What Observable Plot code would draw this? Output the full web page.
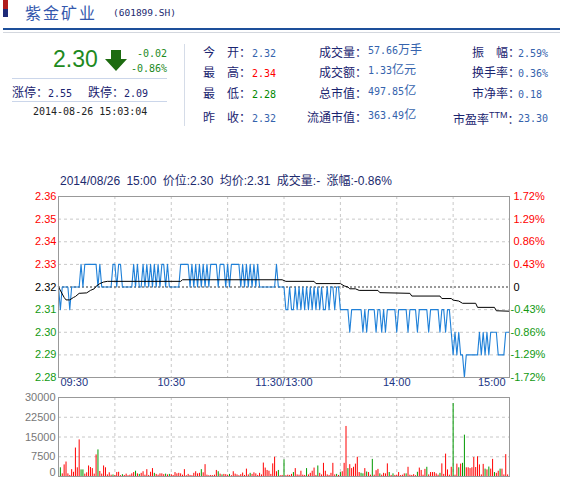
<!DOCTYPE html>
<html><head><meta charset="utf-8">
<script src="https://cdn.jsdelivr.net/npm/d3@7"></script>
<script src="https://cdn.jsdelivr.net/npm/@observablehq/plot@0.6"></script>
<style>
html,body{margin:0;padding:0;background:#fff;}
body{width:563px;height:477px;overflow:hidden;position:relative;font-family:"Liberation Sans","Noto Sans CJK SC",sans-serif;}
.a{position:absolute;white-space:nowrap;}
.cjk{font-family:"Noto Sans CJK SC",sans-serif;font-size:12px;line-height:12px;color:#1a2470;}
.mono{font-family:"DejaVu Sans Mono",monospace;font-size:10px;line-height:12px;}
#price,#vol{position:absolute;left:0;}
</style></head><body>
<div id="hdr"></div>
<div id="price"></div>
<div id="vol"></div>
<script>
// ---------- header data ----------
const stockName = "紫金矿业";
const stockCode = "(601899.SH)";
const lastPrice = "2.30";
const changeAbs = "-0.02";
const changePct = "-0.86%";
const limitLabels = ["涨停：", "跌停："];
const limitValues = ["2.55", "2.09"];
const quoteTime = "2014-08-26 15:03:04";
const statLabels1 = ["今　开：", "最　高：", "最　低：", "昨　收："];
const statValues1 = ["2.32", "2.34", "2.28", "2.32"];
const statLabels2 = ["成交量：", "成交额：", "总市值：", "流通市值："];
const statValues2 = ["57.66万手", "1.33亿元", "497.85亿", "363.49亿"];
const statLabels3 = ["振　幅：", "换手率：", "市净率：", "市盈率"];
const statValues3 = ["2.59%", "0.36%", "0.18", "23.30"];
const chartSubtitle = "2014/08/26 15:00 价位:2.30 均价:2.31 成交量:- 涨幅:-0.86%";

// ---------- chart data ----------
const prevClose = 2.32;
const timeTickIndex = [0, 60, 120, 180, 240];
const timeTickLabels = ["09:30", "10:30", "11:30/13:00", "14:00", "15:00"];
const gridIndex = [30, 60, 90, 120, 150, 180, 210];
const priceTicks = [2.28, 2.29, 2.30, 2.31, 2.32, 2.33, 2.34, 2.35, 2.36];
const pctTickLabels = ["-1.72%", "-1.29%", "-0.86%", "-0.43%", "0", "0.43%", "0.86%", "1.29%", "1.72%"];
const volTicks = [0, 7500, 15000, 22500, 30000];

// minute-by-minute price (241 points: 09:30-11:30, 13:01-15:00)
const price = [
2.32,2.31,2.32,2.32,2.32,2.32,2.31,2.32,2.32,2.32,
2.32,2.32,2.33,2.32,2.33,2.33,2.33,2.33,2.33,2.33,
2.33,2.32,2.33,2.32,2.32,2.32,2.32,2.32,2.32,2.33,
2.33,2.32,2.33,2.33,2.32,2.32,2.32,2.32,2.32,2.32,
2.33,2.32,2.33,2.32,2.32,2.33,2.32,2.33,2.32,2.33,
2.32,2.33,2.32,2.33,2.32,2.33,2.33,2.32,2.33,2.32,
2.32,2.32,2.32,2.32,2.32,2.33,2.33,2.33,2.33,2.33,
2.32,2.33,2.32,2.33,2.32,2.33,2.32,2.33,2.32,2.33,
2.32,2.33,2.33,2.33,2.33,2.32,2.33,2.33,2.33,2.32,
2.33,2.32,2.33,2.33,2.33,2.33,2.33,2.32,2.33,2.32,
2.33,2.32,2.33,2.32,2.33,2.32,2.33,2.32,2.32,2.32,
2.32,2.32,2.32,2.32,2.32,2.32,2.33,2.32,2.32,2.32,
2.32,2.31,2.31,2.32,2.31,2.31,2.32,2.31,2.32,2.31,
2.32,2.31,2.32,2.31,2.32,2.31,2.32,2.31,2.32,2.31,
2.32,2.31,2.31,2.32,2.31,2.32,2.32,2.31,2.32,2.32,
2.31,2.31,2.31,2.31,2.31,2.30,2.31,2.31,2.31,2.31,
2.31,2.31,2.30,2.31,2.30,2.31,2.31,2.31,2.31,2.30,
2.31,2.31,2.30,2.31,2.30,2.31,2.31,2.31,2.31,2.31,
2.30,2.31,2.31,2.31,2.31,2.31,2.30,2.31,2.31,2.31,
2.31,2.30,2.31,2.31,2.31,2.31,2.31,2.30,2.31,2.31,
2.31,2.31,2.31,2.30,2.31,2.31,2.30,2.31,2.31,2.30,
2.29,2.30,2.29,2.30,2.29,2.29,2.28,2.29,2.29,2.29,
2.29,2.29,2.29,2.29,2.30,2.29,2.30,2.29,2.30,2.29,
2.30,2.30,2.30,2.30,2.29,2.29,2.29,2.29,2.30,2.30,
2.30];

// average-price line, read at its visible break points
const avgMinute = [0,3,4,6,8,9,11,15,17,19,20,22,24,26,65,66,119,121,136,137,150,152,154,155,158,160,170,171,187,188,203,204,209,210,213,215,222,223,232,233,240];
const avgValue  = [2.3200,2.3154,2.3143,2.3143,2.3154,2.3158,2.3172,2.3174,2.3185,2.3192,2.3203,2.3215,2.3222,2.3225,2.3225,2.3232,2.3232,2.3225,2.3225,2.3215,2.3215,2.3205,2.3200,2.3192,2.3192,2.3185,2.3185,2.3175,2.3172,2.3160,2.3160,2.3149,2.3149,2.3142,2.3138,2.3128,2.3128,2.3110,2.3110,2.3095,2.3093];

// volume per minute
const volume = [
6400,3300,1000,4400,5500,1000,400,2600,1600,10800,
3300,13900,2500,2500,900,1400,4000,3400,3000,900,
8200,10100,1900,900,4000,3300,600,1400,500,600,
400,1500,1600,300,700,400,900,300,500,1000,
1500,2000,1000,800,1200,1800,500,2600,400,1600,
3000,1200,800,500,1000,1000,700,900,600,800,
700,400,1500,1000,1200,1000,500,2600,300,800,
400,300,1200,1800,1000,1200,2600,1400,4500,500,
300,400,300,500,2300,1800,900,600,800,700,
500,800,300,1800,900,600,300,700,1300,400,
2800,600,1200,800,1400,1000,400,1200,600,5100,
3200,2300,2000,800,4800,7300,1800,2300,300,400,
6300,300,500,400,800,1500,3000,600,500,2000,
500,400,3000,600,1200,2000,3200,400,4000,1200,
600,5000,2000,600,400,1200,5000,600,800,400,
1500,1800,5000,19000,3000,4500,3000,3500,4700,7300,
1500,1200,1000,3000,1700,1500,500,6500,500,2200,
2700,1000,500,1200,1000,4800,1500,400,1000,400,
500,1500,300,500,1000,1000,3500,500,400,700,
300,1600,3200,2300,500,2700,3500,600,1500,1500,
1500,1000,500,1200,4800,800,8500,2500,500,3500,
27700,500,4700,3300,4700,5000,15700,3300,3300,3000,
3300,7200,3400,7500,4400,600,4600,2800,2500,3600,
2800,6500,1500,1200,2000,2800,2800,600,8300,600,
500];
// 1 = up (red), 0 = down (green)
const volumeUp = [
1,0,1,1,1,1,1,1,1,1,
1,1,0,0,1,1,1,1,1,1,
1,0,1,1,1,1,1,1,1,0,
1,1,1,1,0,1,1,1,1,1,
1,0,1,0,1,1,1,1,1,1,
1,0,1,1,1,1,1,0,1,0,
1,1,1,1,1,1,1,1,1,1,
1,1,1,1,1,1,0,1,1,1,
1,1,1,1,1,0,1,0,1,1,
1,0,1,1,1,1,1,1,1,1,
1,1,0,1,1,1,1,1,1,1,
1,1,1,1,1,1,1,0,1,1,
0,1,1,1,1,0,1,1,1,1,
1,1,0,1,1,1,1,1,0,1,
1,1,1,1,1,1,1,1,0,1,
0,1,1,1,0,1,1,1,1,1,
1,0,0,1,0,1,1,0,1,1,
1,0,1,1,1,1,0,1,0,1,
1,1,1,1,1,0,1,1,1,1,
1,0,1,1,1,1,0,1,1,1,
1,1,1,0,1,1,1,1,1,1,
0,1,1,0,1,0,0,1,1,1,
1,1,1,1,1,1,1,0,1,0,
1,1,0,1,1,0,1,1,1,1,
1];

// ---------- header ----------
const RED = "#ff0000", GREEN = "#119911", BLUEV = "#3563ad";
const hdr = document.getElementById("hdr");
function put(html, css) {
  const d = document.createElement("div");
  d.className = "a";
  d.innerHTML = html;
  Object.assign(d.style, css);
  hdr.appendChild(d);
  return d;
}
put("", {left:"3px", top:"0px", width:"5px", height:"9px", background:"#b01c1c"});
put("", {left:"3px", top:"9px", width:"5px", height:"8px", background:"#1e2a78"});
put(stockName, {left:"25px", top:"0px", fontFamily:"Noto Sans CJK SC", fontSize:"16px", lineHeight:"normal", letterSpacing:"2px", color:"#3458ad"});
put(stockCode, {left:"113px", top:"7px", fontFamily:"DejaVu Sans Mono", fontSize:"9.5px", lineHeight:"12px", color:"#1c2a70"});
put("", {left:"3px", top:"28px", width:"557px", height:"2px", background:"#1d4f9a"});
put("", {left:"3px", top:"32px", width:"557px", height:"1px", background:"#d3d7de"});

put(lastPrice, {left:"53px", top:"48px", fontFamily:"Liberation Sans", fontSize:"23px", lineHeight:"23px", color:"#1e8a1e"});
put('<svg width="22" height="21"><polygon points="6,0 16,0 16,9 22,9 11,21 0,9 6,9" fill="#1d6b10"/></svg>', {left:"105px", top:"50px", lineHeight:"0"});
put(changeAbs, {left:"131px", top:"48px", width:"36px", textAlign:"right", fontFamily:"DejaVu Sans Mono", fontSize:"10px", lineHeight:"12px", color:"#1e8a1e"});
put(changePct, {left:"122px", top:"63px", width:"45px", textAlign:"right", fontFamily:"DejaVu Sans Mono", fontSize:"10px", lineHeight:"12px", color:"#1e8a1e"});
put("", {left:"12px", top:"78px", width:"155px", height:"1px", background:"#cbd6ea"});
put("", {left:"12px", top:"101px", width:"155px", height:"1px", background:"#cbd6ea"});
put('<span class="cjk">' + limitLabels[0] + '</span><span class="mono" style="color:#1a2470">' + limitValues[0] + '</span>', {left:"12px", top:"83px"});
put('<span class="cjk">' + limitLabels[1] + '</span><span class="mono" style="color:#1a2470">' + limitValues[1] + '</span>', {left:"88px", top:"83px"});
put(quoteTime, {left:"33px", top:"106px", fontFamily:"DejaVu Sans Mono", fontSize:"10px", lineHeight:"12px", color:"#222"});
put("", {left:"184px", top:"44px", width:"1px", height:"82px", background:"#d5dce8"});

const rowC = [49, 69, 90, 114];
statLabels1.forEach((l, k) => {
  put('<span class="cjk">' + l + '</span>', {left:"203px", top:(rowC[k]-6)+"px"});
  const col = k === 1 ? RED : k === 2 ? "#008800" : BLUEV;
  put('<span class="mono" style="color:' + col + '">' + statValues1[k] + '</span>', {left:"252px", top:(rowC[k]-6)+"px"});
});
statLabels2.forEach((l, k) => {
  put('<span class="cjk">' + l + '</span>', {left:"267px", width:"100px", textAlign:"right", top:(rowC[k]-6)+"px"});
  put(statValues2[k].replace(/([^0-9.%]+)/, '<span style="font-family:Noto Sans CJK SC;font-size:12px">$1</span>'),
      {left:"368px", top:(rowC[k]-6)+"px", fontFamily:"DejaVu Sans Mono", fontSize:"10px", lineHeight:"12px", color:BLUEV});
});
statLabels3.forEach((l, k) => {
  if (k < 3) {
    put('<span class="cjk">' + l + '</span>', {left:"472px", top:(rowC[k]-6)+"px"});
  } else {
    put('<span class="cjk">' + l + '</span><span style="font-family:Liberation Sans;font-size:9px;color:#1a2470;position:relative;top:-6px">TTM</span><span class="cjk">：</span>', {left:"453px", top:(rowC[k]-4)+"px"});
  }
  put('<span class="mono" style="color:' + BLUEV + '">' + statValues3[k] + '</span>', {left:"518px", top:(rowC[k]-6)+"px"});
});
put(chartSubtitle, {left:"60px", top:"174px", fontFamily:"Liberation Sans, Noto Sans CJK SC", fontSize:"12px", lineHeight:"14px", wordSpacing:"3px", color:"#1c2a6e"});

// ---------- charts ----------
const priceRows = price.map((p, i) => ({i, p}));
const avgRows = avgMinute.map((m, k) => ({i: m, a: avgValue[k]}));
const volRows = volume.map((v, i) => ({i, v, up: volumeUp[i]}));
const tickColor = v => Math.abs(v - prevClose) < 1e-9 ? "#000" : v > prevClose ? RED : GREEN;
const gridStyle = {stroke: "#c8c8c8", strokeOpacity: 1, strokeDasharray: "3,3"};
const style = {fontFamily: "Liberation Sans, Arial, sans-serif", fontSize: "11px", background: "transparent", overflow: "visible"};

const pChart = Plot.plot({
  width: 563, height: 211,
  marginLeft: 58, marginRight: 54, marginTop: 10, marginBottom: 20,
  x: {domain: [0, 240], axis: null},
  y: {domain: [2.28, 2.36], axis: null},
  style,
  marks: [
    Plot.gridY(priceTicks.filter(t => t > 2.28 && t < 2.36 && t !== prevClose), gridStyle),
    Plot.gridX(gridIndex, gridStyle),
    Plot.ruleY([prevClose], {stroke: "#333", strokeDasharray: "2,2"}),
    Plot.line(priceRows, {x: "i", y: "p", stroke: "#1f80d8", strokeWidth: 1.1}),
    Plot.line(avgRows, {x: "i", y: "a", stroke: "#000", strokeWidth: 1}),
    Plot.frame({stroke: "#999"}),
    Plot.text(priceTicks, {y: d => d, text: d => d.toFixed(2), frameAnchor: "left", textAnchor: "end", dx: -2, fill: tickColor, fontSize: 11}),
    Plot.text(priceTicks.map((t, k) => ({t, s: pctTickLabels[k]})).filter(d => d.t >= prevClose - 1e-9),
      {y: "t", text: "s", frameAnchor: "right", textAnchor: "start", dx: 4, fill: d => tickColor(d.t), fontSize: 11}),
    Plot.text(priceTicks.map((t, k) => ({t, s: pctTickLabels[k]})).filter(d => d.t < prevClose - 1e-9),
      {y: "t", text: "s", frameAnchor: "right", textAnchor: "start", dx: 1, fill: d => tickColor(d.t), fontSize: 11}),
    Plot.text(timeTickIndex.slice(0, 1), {x: d => d, text: d => timeTickLabels[0], frameAnchor: "bottom", dy: 8, dx: 2, textAnchor: "start", fill: "#1c3584", fontSize: 11}),
    Plot.text(timeTickIndex.slice(1, 4), {x: d => d, text: (d, k) => timeTickLabels[k + 1], frameAnchor: "bottom", dy: 8, textAnchor: "middle", fill: "#1c3584", fontSize: 11}),
    Plot.text(timeTickIndex.slice(4), {x: d => d, text: d => timeTickLabels[4], frameAnchor: "bottom", dy: 8, dx: -4, textAnchor: "end", fill: "#1c3584", fontSize: 11})
  ]
});
const pEl = document.getElementById("price");
pEl.style.top = "186px";
pEl.appendChild(pChart);

const vChart = Plot.plot({
  width: 563, height: 100,
  marginLeft: 58, marginRight: 54, marginTop: 10, marginBottom: 11,
  x: {domain: [0, 240], axis: null},
  y: {domain: [0, 30000], axis: null},
  style,
  marks: [
    Plot.gridY(volTicks.filter(t => t > 0 && t < 30000), gridStyle),
    Plot.gridX(gridIndex, gridStyle),
    Plot.ruleX(volRows, {x: "i", y1: 0, y2: "v", stroke: d => d.up ? "#ff0000" : "#009900", strokeWidth: 1}),
    Plot.frame({stroke: "#999"}),
    Plot.text(volTicks.filter(t => t > 0), {y: d => d, text: d => String(d), frameAnchor: "left", textAnchor: "end", dx: -3, fill: "#777", fontSize: 11}),
    Plot.text(volTicks.filter(t => t === 0), {y: d => d, text: d => String(d), frameAnchor: "left", textAnchor: "end", dx: -3, dy: -4, fill: "#777", fontSize: 11})
  ]
});
const vEl = document.getElementById("vol");
vEl.style.top = "387px";
vEl.appendChild(vChart);
</script>
</body></html>
